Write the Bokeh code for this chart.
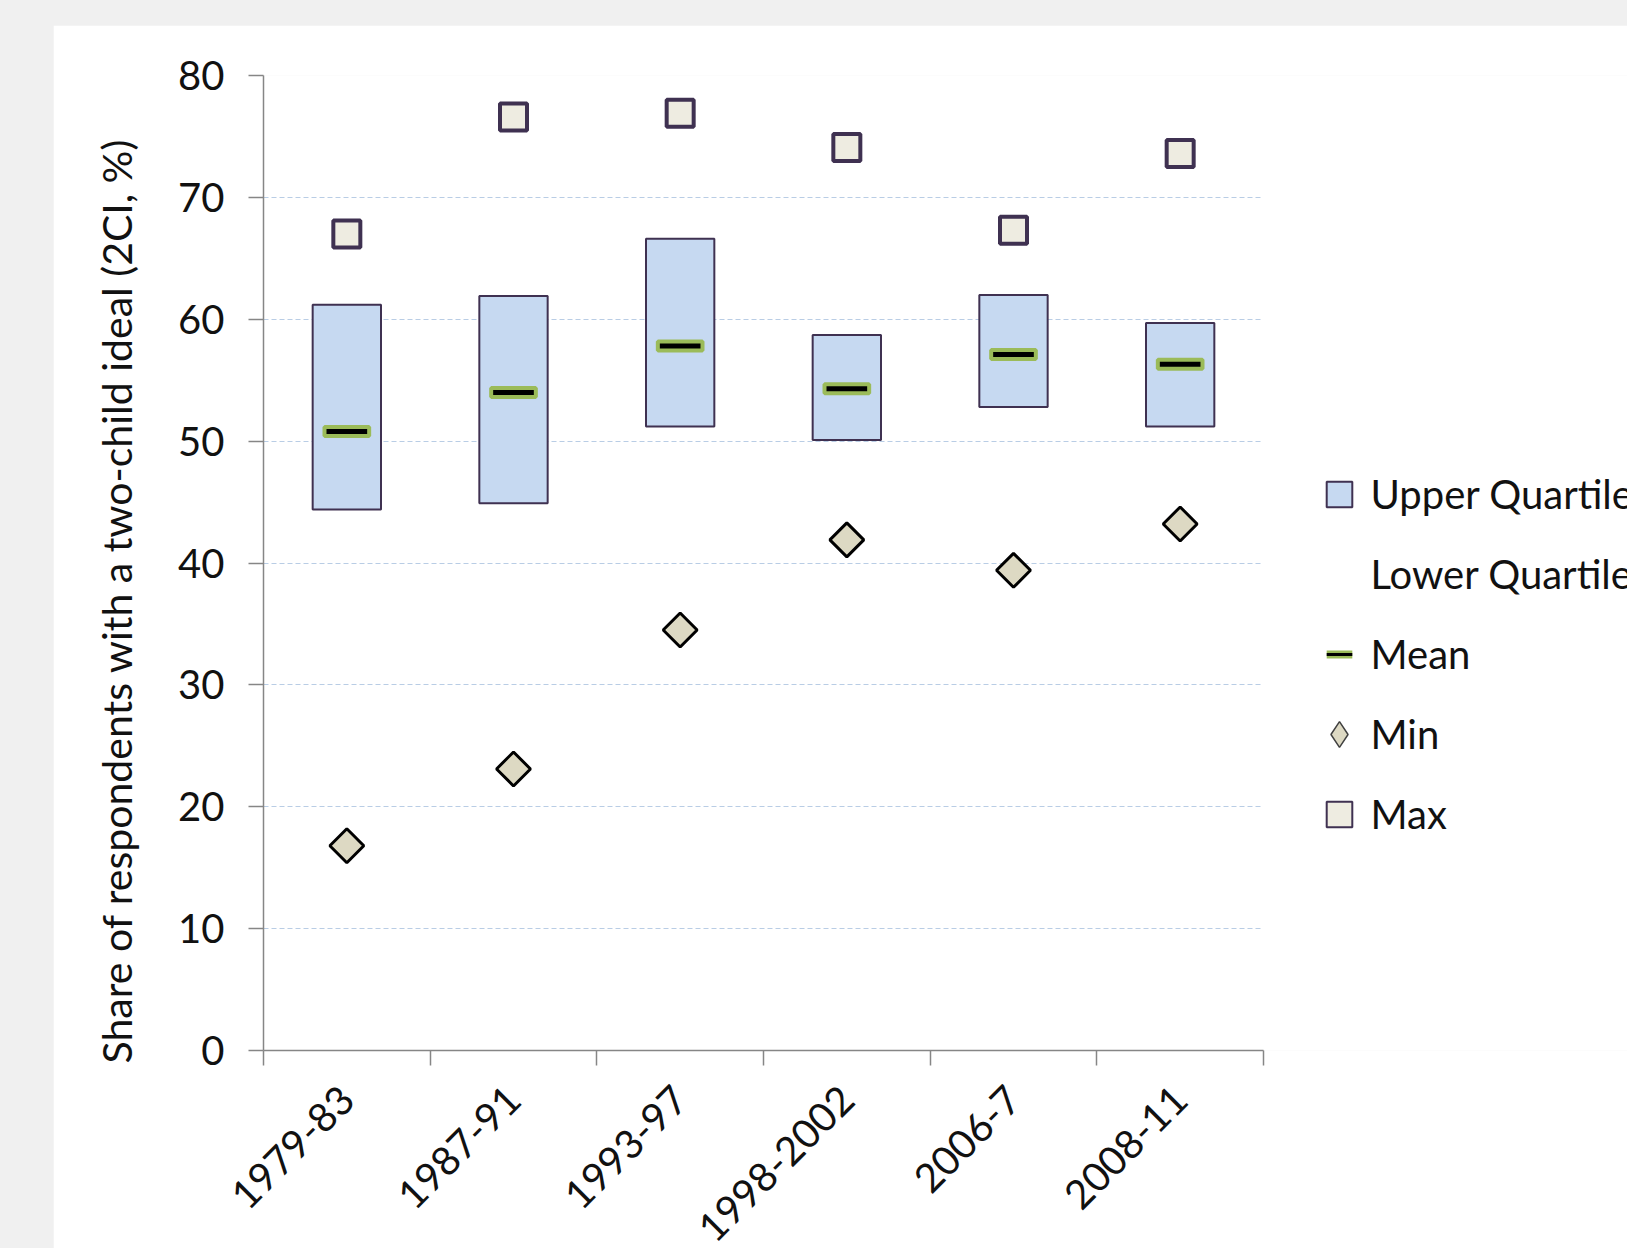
import math
from bokeh.plotting import figure
from bokeh.models import (ColumnDataSource, Range1d, FixedTicker, Legend, LegendItem, Title)
from bokeh.embed import file_html
from bokeh.resources import INLINE

# ---- data ----
periods = ["1979-83", "1987-91", "1993-97", "1998-2002", "2006-7", "2008-11"]
upper_quartile = [61.2, 61.9, 66.6, 58.7, 62.0, 59.7]
lower_quartile = [44.4, 44.9, 51.2, 50.1, 52.8, 51.2]
mean_values = [50.8, 54.0, 57.8, 54.3, 57.1, 56.3]
min_values = [16.8, 23.1, 34.5, 41.9, 39.4, 43.2]
max_values = [67.0, 76.6, 76.9, 74.1, 67.3, 73.6]
y_ticks = [0, 10, 20, 30, 40, 50, 60, 70, 80]
y_label = "Share of respondents with a two-child ideal (2CI, %)"

FONT = "Lato"
FS = "40px"
AXIS_GRAY = "#868686"
TXT = "#111111"

n = len(periods)
xpos = [i + 0.5 for i in range(n)]
src = ColumnDataSource(dict(
    x=xpos, period=periods, upper=upper_quartile, lower=lower_quartile,
    mean=mean_values, mn=min_values, mx=max_values, zero=[0] * n))

# layout (pixels)
LEFT, TOP = 210, 50
FRAME_W, FRAME_H = 1364, 975       # frame runs to the right edge (legend lives inside it)
AXIS_W = 1000                      # width used by the six categories
x_end = n * FRAME_W / AXIS_W

p = figure(frame_width=FRAME_W, frame_height=FRAME_H,
           x_range=Range1d(0, x_end), y_range=Range1d(0, 80),
           output_backend="svg", toolbar_location=None,
           min_border_left=LEFT, min_border_right=0, min_border_top=TOP,
           min_border_bottom=150)
p.margin = (25, 0, 0, 53)
p.outline_line_color = None
p.background_fill_color = "white"
p.border_fill_color = "white"

# y axis
p.yaxis.ticker = FixedTicker(ticks=y_ticks)
p.yaxis.axis_line_color = AXIS_GRAY
p.yaxis.axis_line_width = 1.5
p.yaxis.major_tick_line_color = AXIS_GRAY
p.yaxis.major_tick_line_width = 1.5
p.yaxis.major_tick_out = 15
p.yaxis.major_tick_in = 0
p.yaxis.minor_tick_line_color = None
p.yaxis.major_label_text_font = FONT
p.yaxis.major_label_text_font_size = FS
p.yaxis.major_label_text_color = TXT
p.yaxis.major_label_standoff = 24

ytitle = Title(text=y_label, align="left", offset=-13, standoff=70,
               text_font=FONT, text_font_size="41px", text_font_style="normal",
               text_color=TXT)
p.add_layout(ytitle, "left")

# x axis: labels at category centres, tick marks at category boundaries
p.xaxis.bounds = (0, n)
p.xaxis.ticker = FixedTicker(ticks=xpos, minor_ticks=list(range(n + 1)))
p.xaxis.major_label_overrides = {x: lab for x, lab in zip(xpos, periods)}
p.xaxis.major_label_orientation = math.pi / 4
p.xaxis.major_tick_out = 0
p.xaxis.major_tick_in = 0
p.xaxis.major_tick_line_color = None
p.xaxis.minor_tick_out = 15
p.xaxis.minor_tick_in = 0
p.xaxis.minor_tick_line_color = AXIS_GRAY
p.xaxis.minor_tick_line_width = 1.5
p.xaxis.axis_line_color = AXIS_GRAY
p.xaxis.axis_line_width = 1.5
p.xaxis.major_label_text_font = FONT
p.xaxis.major_label_text_font_size = FS
p.xaxis.major_label_text_color = TXT
p.xaxis.major_label_standoff = 27

# grid
p.xgrid.visible = False
p.ygrid.ticker = FixedTicker(ticks=y_ticks[1:])
p.ygrid.cross_bounds = (0, n)
p.ygrid.grid_line_color = "#b9cde5"
p.ygrid.grid_line_dash = "5 3"
p.ygrid.grid_line_width = 1

# glyphs
lower_r = p.vbar(x="x", bottom="zero", top="lower", width=0.41, source=src,
                 fill_alpha=0, line_alpha=0)
upper_r = p.vbar(x="x", bottom="lower", top="upper", width=0.41, source=src,
                 fill_color="#c6d9f1", line_color="#3f3151", line_width=2)
mean_r = p.rect(x="x", y="mean", width=0.268, height=9, height_units="screen", source=src,
                fill_color="black", line_color="#9bbb59", line_width=4)
min_r = p.scatter(x="x", y="mn", source=src, marker="square", angle=math.pi / 4, size=24,
                  fill_color="#ddd9c3", line_color="black", line_width=3)
max_r = p.scatter(x="x", y="mx", source=src, marker="square", size=27,
                  fill_color="#eeece1", line_color="#3f3151", line_width=4)


# legend swatches: same data, drawn fully transparent in the plot (muted, alpha 0)
def swatch(y, **kw):
    r = p.scatter(x="x", y=y, source=src, muted_fill_alpha=0, muted_line_alpha=0, **kw)
    r.muted = True
    return r


uq_leg = swatch("upper", marker="square", fill_color="#c6d9f1", line_color="#3f3151",
                line_width=2)
mean_leg_g = swatch("mean", marker="dash", line_color="#9bbb59", line_width=8)
mean_leg_k = swatch("mean", marker="dash", line_color="black", line_width=3)
min_leg = swatch("mn", marker="diamond", fill_color="#ddd9c3", line_color="#404040",
                 line_width=1.5)
max_leg = swatch("mx", marker="square", fill_color="#eeece1", line_color="#3f3151",
                 line_width=2)

GLYPH = 64
legend = Legend(items=[
    LegendItem(label="Upper Quartile", renderers=[uq_leg]),
    LegendItem(label="Lower Quartile", renderers=[lower_r]),
    LegendItem(label="Mean", renderers=[mean_leg_g, mean_leg_k]),
    LegendItem(label="Min", renderers=[min_leg]),
    LegendItem(label="Max", renderers=[max_leg]),
], location=(1043.5, 204), orientation="vertical",
    glyph_width=GLYPH, glyph_height=GLYPH, label_height=GLYPH, label_standoff=0,
    spacing=16, padding=0, margin=0, border_line_color=None, background_fill_alpha=0,
    label_text_font=FONT, label_text_font_size=FS, label_text_color=TXT)
p.add_layout(legend)

html = file_html(p, INLINE)
page_css = ("<style>html, body { margin: 0; padding: 0; background: #f0f0f0; "
            "overflow: hidden; }</style>")
html = html.replace("</head>", page_css + "</head>", 1)
open("out.html", "w").write(html)
